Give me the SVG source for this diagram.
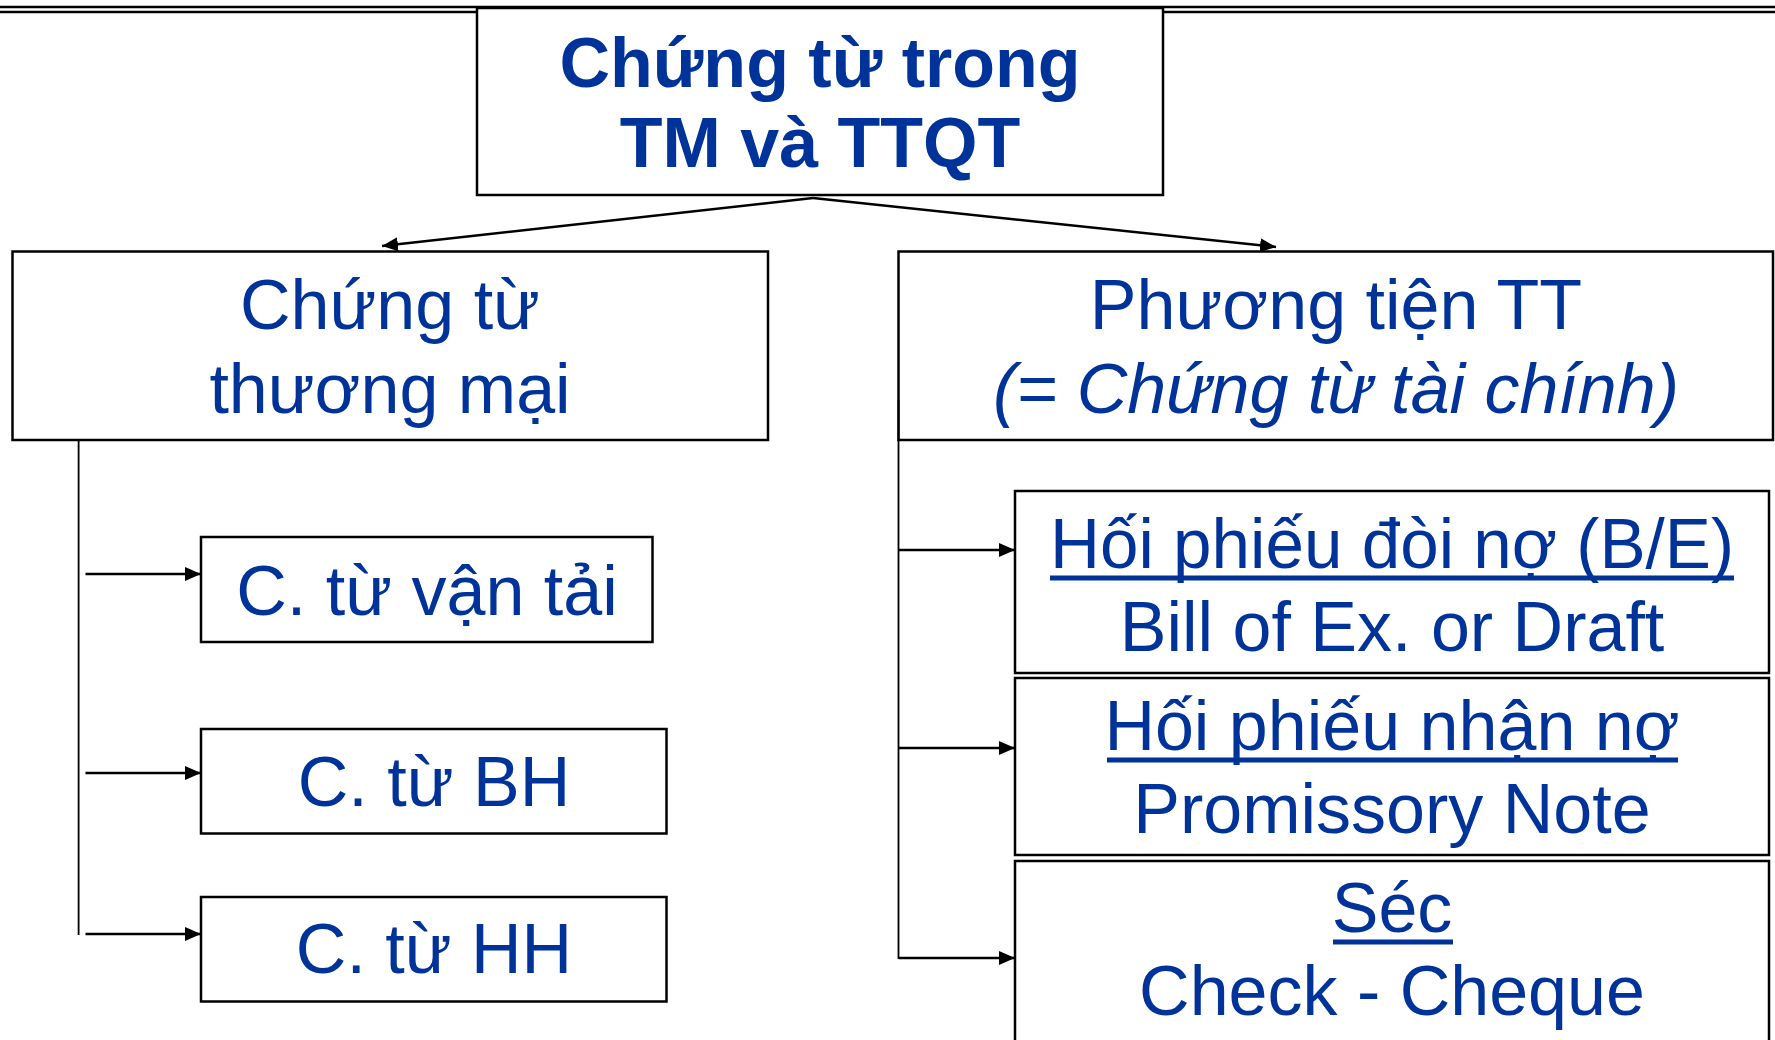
<svg xmlns="http://www.w3.org/2000/svg" width="1775" height="1040" viewBox="0 0 1775 1040">
<style>
.box{fill:#fff;stroke:#000;stroke-width:2.5}
.t{font-family:"Liberation Sans",Arial,sans-serif;font-size:70px;fill:#003399;text-anchor:middle}
.b{font-weight:bold}
.i{font-style:italic}
.ul{stroke:#003399;stroke-width:5}
.c{stroke:#000;stroke-width:2.5;fill:none}
.v{stroke:#000;stroke-width:1.8;fill:none}
</style>
<defs>
<marker id="ah" markerUnits="userSpaceOnUse" markerWidth="18" markerHeight="16" refX="16" refY="7" orient="auto">
<path d="M0,0 L16,7 L0,14 Z" fill="#000"/>
</marker>
</defs>
<rect width="1775" height="1040" fill="#fff"/>
<line x1="0" y1="7" x2="1775" y2="7" stroke="#000" stroke-width="2.5"/>
<line x1="0" y1="12" x2="1775" y2="12" stroke="#000" stroke-width="2.5"/>

<g id="root">
<rect class="box" x="477" y="8" width="686" height="187"/>
<text class="t b" x="820" y="87">Chứng từ trong</text>
<text class="t b" x="820" y="167">TM và TTQT</text>
</g>

<g id="ct-thuongmai">
<rect class="box" x="12.5" y="251.5" width="755.5" height="188.5"/>
<text class="t" x="390" y="329">Chứng từ</text>
<text class="t" x="390" y="413">thương mại</text>
</g>

<g id="phuongtien">
<rect class="box" x="898.5" y="251.5" width="874.5" height="188.5"/>
<text class="t" x="1336" y="329">Phương tiện TT</text>
<text class="t i" x="1336" y="413">(= Chứng từ tài chính)</text>
</g>

<g id="vantai">
<rect class="box" x="201" y="537" width="451.5" height="105"/>
<text class="t" x="427" y="615">C. từ vận tải</text>
</g>
<g id="baohiem">
<rect class="box" x="201" y="729" width="465.5" height="104.5"/>
<text class="t" x="434" y="806">C. từ BH</text>
</g>
<g id="hanghoa">
<rect class="box" x="201" y="897" width="465.5" height="104.5"/>
<text class="t" x="434" y="973">C. từ HH</text>
</g>

<g id="hoiphieu-doino">
<rect class="box" x="1015" y="491" width="754" height="182"/>
<text class="t" x="1392" y="568" textLength="684" lengthAdjust="spacingAndGlyphs">Hối phiếu đòi nợ (B/E)</text>
<line class="ul" x1="1050" y1="578" x2="1734" y2="578"/>
<text class="t" x="1392" y="651">Bill of Ex. or Draft</text>
</g>
<g id="hoiphieu-nhanno">
<rect class="box" x="1015" y="678" width="754" height="177"/>
<text class="t" x="1392" y="750">Hối phiếu nhận nợ</text>
<line class="ul" x1="1107" y1="760" x2="1678" y2="760"/>
<text class="t" x="1392" y="833">Promissory Note</text>
</g>
<g id="sec">
<rect class="box" x="1015" y="861" width="754" height="190"/>
<text class="t" x="1392" y="932">Séc</text>
<line class="ul" x1="1333" y1="942" x2="1453" y2="942"/>
<text class="t" x="1392" y="1015">Check - Cheque</text>
</g>

<g id="connectors">
<line class="c" x1="813" y1="198" x2="382" y2="246" marker-end="url(#ah)"/>
<line class="c" x1="813" y1="198" x2="1276" y2="247" marker-end="url(#ah)"/>
<line class="v" x1="78.6" y1="440" x2="78.6" y2="935"/>
<line class="c" x1="85.5" y1="574" x2="201" y2="574" marker-end="url(#ah)"/>
<line class="c" x1="85.5" y1="773" x2="201" y2="773" marker-end="url(#ah)"/>
<line class="c" x1="85.5" y1="934" x2="201" y2="934" marker-end="url(#ah)"/>
<line class="v" x1="898.5" y1="400" x2="898.5" y2="959"/>
<line class="c" x1="898.5" y1="550" x2="1015" y2="550" marker-end="url(#ah)"/>
<line class="c" x1="898.5" y1="748" x2="1015" y2="748" marker-end="url(#ah)"/>
<line class="c" x1="898.5" y1="958" x2="1015" y2="958" marker-end="url(#ah)"/>
</g>
</svg>
